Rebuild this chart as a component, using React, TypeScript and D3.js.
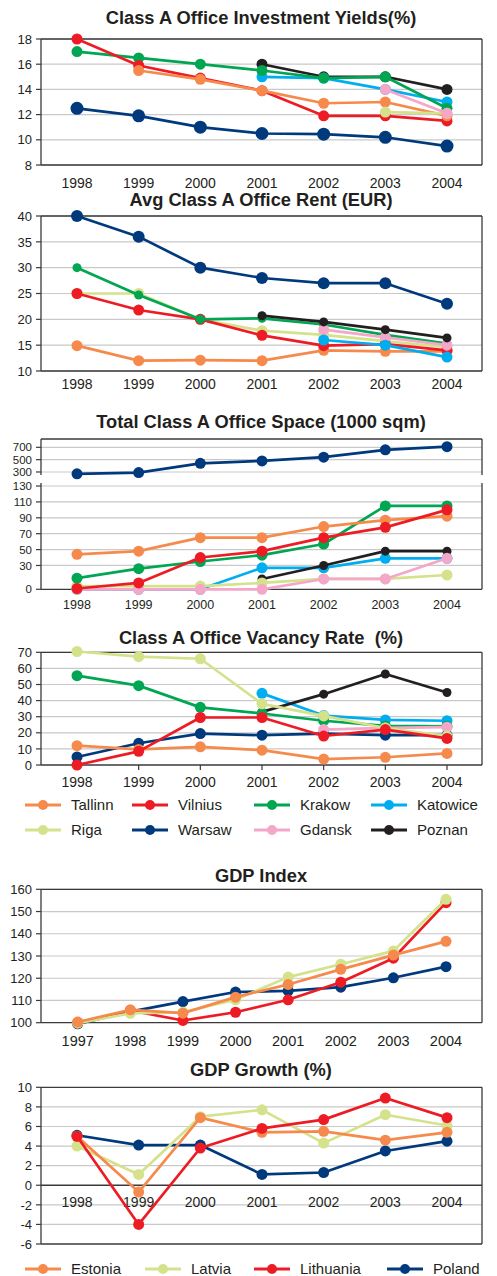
import React from "react";
import * as d3 from "d3";

// ---------- data ----------
const cities = ["Tallinn", "Vilnius", "Krakow", "Katowice", "Riga", "Warsaw", "Gdansk", "Poznan"];
const officeYears = ["1998", "1999", "2000", "2001", "2002", "2003", "2004"];

const yieldTallinn = [null, 15.5, 14.8, 13.9, 12.9, 13.0, 11.9];
const yieldVilnius = [18, 15.9, 14.9, 13.9, 11.9, 11.9, 11.5];
const yieldKrakow = [17, 16.5, 16.0, 15.5, 14.9, 15.0, 12.5];
const yieldKatowice = [null, null, null, 15.0, 14.9, 14.0, 13.0];
const yieldRiga = [null, null, null, null, null, 12.2, 12.1];
const yieldWarsaw = [12.5, 11.9, 11.0, 10.5, 10.45, 10.2, 9.5];
const yieldGdansk = [null, null, null, null, null, 14.0, 12.1];
const yieldPoznan = [null, null, null, 16.0, 15.0, 15.0, 14.0];
const yieldTicks = [8, 10, 12, 14, 16, 18];

const rentTallinn = [14.9, 12, 12.1, 12, 14, 13.8, 13.8];
const rentVilnius = [25, 21.8, 20, 16.9, 14.9, 15.2, 14.0];
const rentKrakow = [30, 24.7, 20, 20.2, 19.0, 17.0, 15.3];
const rentKatowice = [null, null, null, null, 16.0, 15.0, 12.7];
const rentRiga = [25, 25, 20, 17.8, 17.0, 15.8, 14.6];
const rentWarsaw = [40, 36, 30, 28, 27, 27, 23];
const rentGdansk = [null, null, null, null, 18.0, 16.5, 15.0];
const rentPoznan = [null, null, null, 20.7, 19.5, 18.0, 16.4];
const rentTicks = [10, 15, 20, 25, 30, 35, 40];

const spaceTallinn = [44, 48, 65, 65, 79, 87, 92];
const spaceVilnius = [1, 8, 40, 48, 65, 78, 100];
const spaceKrakow = [14, 26, 35, 43, 57, 105, 105];
const spaceKatowice = [0, 0, 0, 27, 27, 39, 39];
const spaceRiga = [4, 4, 4, 8, 13, 13, 18];
const spaceWarsaw = [270, 290, 440, 480, 540, 660, 710];
const spaceGdansk = [0, 0, 0, 0, 13, 13, 39];
const spacePoznan = [null, null, null, 13, 30, 48, 48];
const spaceUpperTicks = [300, 500, 700];
const spaceLowerTicks = [0, 30, 50, 70, 90, 110, 130];

const vacTallinn = [12, 9.7, 11.3, 9.2, 3.7, 4.8, 7.2];
const vacVilnius = [0, 8.5, 29.5, 29.5, 18, 22, 16.5];
const vacKrakow = [55.5, 49.3, 35.8, 32, 27.5, 24.3, 24];
const vacKatowice = [null, null, null, 44.5, 30.7, 28, 27.5];
const vacRiga = [70.5, 67.3, 66, 38, 30.5, 23, 18];
const vacWarsaw = [5, 13.5, 19.5, 18.5, 19.5, 18.5, 18.5];
const vacGdansk = [null, null, null, null, 22, 23, 23.5];
const vacPoznan = [null, null, null, 33, 44, 56.5, 45];
const vacTicks = [0, 10, 20, 30, 40, 50, 60, 70];

const countries = ["Estonia", "Latvia", "Lithuania", "Poland"];
const gdpYears = ["1997", "1998", "1999", "2000", "2001", "2002", "2003", "2004"];
const gdpEstonia = [100.3, 105.8, 104.3, 111.5, 117.2, 124, 130.4, 136.6];
const gdpLatvia = [99.8, 104.2, 104.7, 110.3, 120.5, 126.3, 132.3, 155.5];
const gdpLithuania = [100, 105.5, 101, 104.7, 110.3, 118.2, 129, 154];
const gdpPoland = [99.5, 105, 109.5, 113.8, 114.3, 116, 120.2, 125.2];
const gdpTicks = [100, 110, 120, 130, 140, 150, 160];

const growthYears = ["1998", "1999", "2000", "2001", "2002", "2003", "2004"];
const growthEstonia = [5, -0.7, 6.9, 5.4, 5.5, 4.6, 5.4];
const growthLatvia = [4, 1.1, 7.0, 7.7, 4.3, 7.2, 6.1];
const growthLithuania = [5, -4, 3.8, 5.8, 6.7, 8.9, 6.9];
const growthPoland = [5.1, 4.1, 4.1, 1.1, 1.3, 3.5, 4.5];
const growthTicks = [-6, -4, -2, 0, 2, 4, 6, 8, 10];

// ---------- styles ----------
const COLORS: Record<string, string> = {
  Tallinn: "#F58A4C",
  Vilnius: "#ED1C24",
  Krakow: "#00A651",
  Katowice: "#00AEEF",
  Riga: "#D5E28B",
  Warsaw: "#003A7D",
  Gdansk: "#F4A7C9",
  Poznan: "#231F20",
  Estonia: "#F58A4C",
  Latvia: "#D5E28B",
  Lithuania: "#ED1C24",
  Poland: "#003A7D",
};
const FONT = "'Liberation Sans', Arial, sans-serif";
const TEXT = "#231F20";
const GRID = "#C9C9C9";
const FRAME = "#3a3a3a";
const X0 = 41;
const X1 = 482;

type Series = { name: string; values: (number | null)[]; r?: number };

function Lines({ series, x, y, cats, r = 5.5 }: any) {
  const line = d3
    .line<any>()
    .defined((d: any) => d.v != null)
    .x((d: any) => x(d.c))
    .y((d: any) => y(d.v));
  return (
    <g>
      {series.map((s: Series) => {
        const pts = cats.map((c: string, i: number) => ({ c, v: s.values[i] }));
        return (
          <g key={s.name}>
            <path d={line(pts) || ""} fill="none" stroke={COLORS[s.name]} strokeWidth={2.7} strokeLinejoin="round" />
            {pts
              .filter((p: any) => p.v != null)
              .map((p: any, i: number) => (
                <circle key={i} cx={x(p.c)} cy={y(p.v)} r={s.r ?? r} fill={COLORS[s.name]} />
              ))}
          </g>
        );
      })}
    </g>
  );
}

function YAxis({ y, ticks, fontSize = 13, gridSkip = [] as number[] }: any) {
  return (
    <g>
      {ticks.map((t: number) => (
        <g key={t}>
          {!gridSkip.includes(t) && <line x1={X0} x2={X1} y1={y(t)} y2={y(t)} stroke={GRID} strokeWidth={1.2} />}
          <line x1={X0 - 5} x2={X0} y1={y(t)} y2={y(t)} stroke={FRAME} strokeWidth={1.2} />
          <text x={X0 - 9} y={y(t)} dy="0.36em" textAnchor="end" fontSize={fontSize} fill={TEXT} fontFamily={FONT}>
            {t}
          </text>
        </g>
      ))}
    </g>
  );
}

function XLabels({ x, cats, yPos, fontSize = 14 }: any) {
  return (
    <g>
      {cats.map((c: string) => (
        <text key={c} x={x(c)} y={yPos} textAnchor="middle" fontSize={fontSize} fill={TEXT} fontFamily={FONT}>
          {c}
        </text>
      ))}
    </g>
  );
}

function Frame({ top, bottom, baseY }: any) {
  return (
    <g fill="none" stroke={FRAME} strokeWidth={1.3}>
      <line x1={X0} x2={X1} y1={top} y2={top} />
      <line x1={X1} x2={X1} y1={top} y2={bottom} />
      <line x1={X0} x2={X0} y1={top} y2={bottom} />
      <line x1={X0} x2={X1} y1={baseY ?? bottom} y2={baseY ?? bottom} />
    </g>
  );
}

function Title({ text, y }: any) {
  return (
    <text
      x={261}
      y={y}
      textAnchor="middle"
      fontSize={18.3}
      fontWeight="bold"
      fill={TEXT}
      fontFamily={FONT}
      style={{ whiteSpace: "pre" }}
    >
      {text}
    </text>
  );
}

function Legend({ names, cols, y }: any) {
  return (
    <g>
      {names.map((n: string, i: number) => {
        const cx = cols[i % cols.length];
        const cy = y[Math.floor(i / cols.length)];
        return (
          <g key={n}>
            <line x1={cx - 18} x2={cx + 18} y1={cy} y2={cy} stroke={COLORS[n]} strokeWidth={2.8} />
            <circle cx={cx} cy={cy} r={5} fill={COLORS[n]} />
            <text x={cx + 28} y={cy} dy="0.36em" fontSize={15} fill={TEXT} fontFamily={FONT}>
              {n}
            </text>
          </g>
        );
      })}
    </g>
  );
}

export default function App() {
  const xo = d3.scalePoint<string>().domain(officeYears).range([77, 447]);
  const xg = d3.scalePoint<string>().domain(gdpYears).range([77.7, 446]);
  const xgr = d3.scalePoint<string>().domain(growthYears).range([77, 447]);

  // Chart 1
  const y1 = d3.scaleLinear().domain([8, 18]).range([165, 39]);
  const s1: Series[] = [
    { name: "Poznan", values: yieldPoznan },
    { name: "Katowice", values: yieldKatowice },
    { name: "Krakow", values: yieldKrakow },
    { name: "Vilnius", values: yieldVilnius },
    { name: "Tallinn", values: yieldTallinn },
    { name: "Riga", values: yieldRiga },
    { name: "Gdansk", values: yieldGdansk },
    { name: "Warsaw", values: yieldWarsaw, r: 6.5 },
  ];
  // Chart 2
  const y2 = d3.scaleLinear().domain([10, 40]).range([371, 216]);
  const s2: Series[] = [
    { name: "Tallinn", values: rentTallinn },
    { name: "Riga", values: rentRiga },
    { name: "Vilnius", values: rentVilnius },
    { name: "Krakow", values: rentKrakow, r: 4.5 },
    { name: "Gdansk", values: rentGdansk },
    { name: "Poznan", values: rentPoznan, r: 4.5 },
    { name: "Katowice", values: rentKatowice },
    { name: "Warsaw", values: rentWarsaw, r: 6 },
  ];
  // Chart 3
  const y3u = d3.scaleLinear().domain([251, 835]).range([475, 439]);
  const y3l = d3.scaleLinear().domain([0, 133.8]).range([589.3, 483]);
  const s3: Series[] = [
    { name: "Katowice", values: spaceKatowice },
    { name: "Poznan", values: spacePoznan, r: 4.5 },
    { name: "Riga", values: spaceRiga },
    { name: "Gdansk", values: spaceGdansk },
    { name: "Krakow", values: spaceKrakow },
    { name: "Tallinn", values: spaceTallinn },
    { name: "Vilnius", values: spaceVilnius },
  ];
  // Chart 4
  const y4 = d3.scaleLinear().domain([0, 70]).range([765, 652.3]);
  const s4: Series[] = [
    { name: "Katowice", values: vacKatowice },
    { name: "Poznan", values: vacPoznan, r: 4.5 },
    { name: "Krakow", values: vacKrakow },
    { name: "Warsaw", values: vacWarsaw },
    { name: "Gdansk", values: vacGdansk },
    { name: "Riga", values: vacRiga },
    { name: "Tallinn", values: vacTallinn },
    { name: "Vilnius", values: vacVilnius },
  ];
  // Chart 5
  const y5 = d3.scaleLinear().domain([100, 160]).range([1022.7, 889.3]);
  const s5: Series[] = [
    { name: "Poland", values: gdpPoland },
    { name: "Lithuania", values: gdpLithuania },
    { name: "Latvia", values: gdpLatvia },
    { name: "Estonia", values: gdpEstonia },
  ];
  // Chart 6
  const y6 = d3.scaleLinear().domain([-6, 10]).range([1244, 1087.3]);
  const s6: Series[] = [
    { name: "Poland", values: growthPoland },
    { name: "Latvia", values: growthLatvia },
    { name: "Estonia", values: growthEstonia },
    { name: "Lithuania", values: growthLithuania },
  ];

  return (
    <svg
      width={497}
      height={1276}
      style={{ position: "absolute", left: 0, top: 0, background: "#fff" }}
      xmlns="http://www.w3.org/2000/svg"
    >
      <rect width={497} height={1276} fill="#fff" />

      {/* Chart 1 */}
      <Title text="Class A Office Investment Yields(%)" y={24} />
      <YAxis y={y1} ticks={yieldTicks} />
      <Frame top={39} bottom={165} />
      <Lines series={s1} x={xo} y={y1} cats={officeYears} />
      <XLabels x={xo} cats={officeYears} yPos={188} />

      {/* Chart 2 */}
      <Title text="Avg Class A Office Rent (EUR)" y={206} />
      <YAxis y={y2} ticks={rentTicks} />
      <Frame top={216} bottom={371} />
      <Lines series={s2} x={xo} y={y2} cats={officeYears} />
      <XLabels x={xo} cats={officeYears} yPos={389} />

      {/* Chart 3 */}
      <Title text="Total Class A Office Space (1000 sqm)" y={428} />
      <YAxis y={y3u} ticks={spaceUpperTicks} fontSize={11.5} />
      <YAxis y={y3l} ticks={spaceLowerTicks} fontSize={11.5} gridSkip={[0]} />
      <g fill="none" stroke={FRAME} strokeWidth={1.3}>
        <line x1={X0} x2={X1} y1={439} y2={439} />
        <line x1={X0} x2={X0} y1={439} y2={475} />
        <line x1={X1} x2={X1} y1={439} y2={475} />
        <line x1={X0} x2={X0} y1={483} y2={589.3} />
        <line x1={X1} x2={X1} y1={483} y2={589.3} />
        <line x1={X0} x2={X1} y1={589.3} y2={589.3} />
      </g>
      <Lines series={[{ name: "Warsaw", values: spaceWarsaw }]} x={xo} y={y3u} cats={officeYears} />
      <Lines series={s3} x={xo} y={y3l} cats={officeYears} />
      <XLabels x={xo} cats={officeYears} yPos={609} fontSize={12.5} />

      {/* Chart 4 */}
      <Title text="Class A Office Vacancy Rate  (%)" y={644} />
      <YAxis y={y4} ticks={vacTicks} gridSkip={[0]} />
      <Frame top={652.3} bottom={765} />
      {officeYears.map((c) => (
        <line key={c} x1={xo(c)} x2={xo(c)} y1={765} y2={770} stroke={FRAME} strokeWidth={1.2} />
      ))}
      <Lines series={s4} x={xo} y={y4} cats={officeYears} />
      <XLabels x={xo} cats={officeYears} yPos={787} />

      <Legend names={cities} cols={[43, 150, 272, 389]} y={[805, 830]} />

      {/* Chart 5 */}
      <Title text="GDP Index" y={882} />
      <YAxis y={y5} ticks={gdpTicks} gridSkip={[100]} />
      <Frame top={889.3} bottom={1022.7} />
      <Lines series={s5} x={xg} y={y5} cats={gdpYears} />
      <XLabels x={xg} cats={gdpYears} yPos={1046} fontSize={14.5} />

      {/* Chart 6 */}
      <Title text="GDP Growth (%)" y={1076} />
      <YAxis y={y6} ticks={growthTicks} gridSkip={[-6, 0, 10]} />
      <Frame top={1087.3} bottom={1244} baseY={y6(0)} />
      <line x1={X0} x2={X1} y1={1244} y2={1244} stroke={FRAME} strokeWidth={1.3} />
      <XLabels x={xgr} cats={growthYears} yPos={1207} />
      <Lines series={s6} x={xgr} y={y6} cats={growthYears} />

      <Legend names={countries} cols={[43, 163, 272, 405]} y={[1269]} />
    </svg>
  );
}
